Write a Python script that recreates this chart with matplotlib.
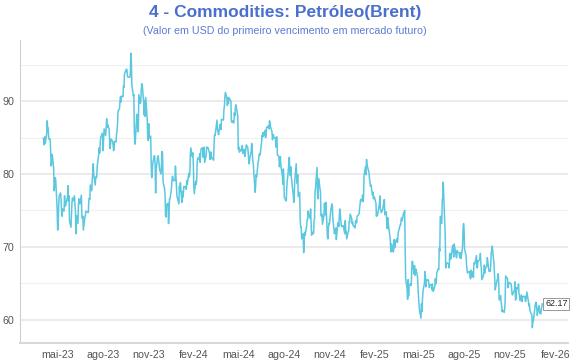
import numpy as np
import pandas as pd
import matplotlib
matplotlib.use('Agg')
import matplotlib.pyplot as plt
import matplotlib.dates as mdates

plt.rcParams['font.family'] = ['Liberation Sans', 'DejaVu Sans']

title = '4 - Commodities: Petróleo(Brent)'
subtitle = '(Valor em USD do primeiro vencimento em mercado futuro)'

# brent daily closes, one list per quarter (business days from start date)
q2_2023_start = '2023-04-03'
q2_2023 = [84.9, 84.9, 84.0, 85.1, 84.2, 85.6, 87.3, 86.1, 86.3, 84.8, 84.8, 83.1, 81.1, 81.7,
           82.7, 80.8, 77.7, 78.4, 79.5,
           79.3, 75.3, 72.3, 72.5, 75.3, 77.0, 77.4, 76.4, 75.0, 74.2, 75.2, 74.9, 77.0, 75.9, 75.6,
           76.0, 76.8, 78.4, 76.3, 77.0, 73.5, 72.7, 74.3, 76.1,
           76.7, 76.3, 77.0, 76.0, 74.8, 71.8, 74.3, 73.2, 75.7, 76.6, 76.1, 75.9, 77.1, 74.1, 73.9,
           74.2, 72.3, 74.0, 74.3, 74.9]

q3_2023_start = '2023-07-03'
q3_2023 = [74.7, 76.3, 76.7, 76.5, 78.5, 77.7, 79.4, 80.1, 81.4, 79.9, 78.5, 79.6, 79.5, 79.6, 81.1,
           82.7, 83.6, 82.9, 84.2, 85.0, 85.6,
           84.9, 83.2, 85.1, 86.2, 85.3, 86.2, 87.6, 86.4, 86.8, 86.2, 84.9, 83.5, 84.1, 84.8,
           84.5, 84.0, 83.2, 83.4, 84.5, 84.4, 85.5, 85.9, 86.9,
           88.6, 89.0, 90.0, 90.6, 89.9, 90.7, 90.6, 92.1, 91.9, 93.7, 93.9, 94.4, 94.3, 93.5, 93.3,
           93.3, 93.3, 94.0, 96.6, 95.4, 92.2]

q4_2023_start = '2023-10-02'
q4_2023 = [90.7, 90.9, 85.8, 84.1, 84.6, 88.2, 87.7, 85.8, 86.0, 90.9, 89.7, 89.9, 91.5, 92.4, 92.2,
           89.8, 88.1, 90.1, 87.9, 90.5, 87.5, 85.0,
           84.6, 86.9, 84.9, 85.2, 81.6, 79.5, 80.0, 81.4, 82.5, 82.5, 81.2, 77.4, 80.6, 82.3, 82.5,
           82.0, 81.4, 80.6, 80.0, 81.7, 83.1, 82.8,
           78.9, 78.0, 77.2, 74.3, 74.1, 75.8, 76.0, 73.2, 74.3, 76.6, 76.6, 78.0, 79.2, 79.7, 79.4,
           79.1, 79.1, 81.1, 79.7, 78.4, 77.0]

q1_2024_start = '2024-01-02'
q1_2024 = [75.9, 78.3, 77.6, 78.8, 76.1, 77.6, 76.8, 77.4, 78.3, 78.2, 78.3, 77.9, 79.1, 78.6, 80.1,
           79.6, 80.0, 82.4, 83.6, 82.4, 82.9, 81.7,
           78.7, 77.3, 79.0, 78.6, 79.2, 81.6, 82.2, 82.0, 82.8, 81.6, 82.9, 83.5, 83.6, 82.3, 83.0,
           83.7, 81.6, 82.5, 83.7, 83.7, 83.6,
           83.6, 82.8, 82.0, 83.0, 83.0, 82.1, 82.2, 81.9, 84.0, 85.4, 85.3, 86.9, 87.4, 86.0, 85.8,
           85.4, 86.8, 86.3, 86.1, 87.5]

q2_2024_start = '2024-04-01'
q2_2024 = [87.4, 88.9, 89.4, 90.7, 91.2, 90.4, 89.4, 90.5, 89.7, 90.5, 90.1, 90.0, 87.3, 87.1, 87.3,
           87.0, 88.4, 88.0, 89.0, 89.5, 88.4, 87.9,
           83.4, 83.7, 83.0, 83.3, 83.2, 83.6, 83.9, 82.8, 83.4, 82.4, 82.8, 83.3, 84.0, 83.7, 82.9,
           81.9, 81.4, 82.1, 83.1, 84.2, 83.6, 81.9, 81.6,
           78.4, 77.5, 78.4, 79.9, 79.6, 81.6, 81.9, 82.6, 82.8, 82.6, 84.3, 85.3, 85.1, 85.7, 85.2,
           86.0, 85.0, 85.3, 86.4, 86.4]

q3_2024_start = '2024-07-01'
q3_2024 = [86.6, 86.2, 87.3, 87.0, 86.5, 85.8, 84.7, 85.1, 85.4, 85.0, 84.9, 83.7, 85.1, 85.1, 82.6,
           82.4, 81.0, 81.7, 82.4, 81.1, 79.8, 78.6, 80.7,
           79.5, 76.8, 76.3, 76.5, 78.3, 79.2, 79.7, 82.3, 80.7, 79.8, 81.0, 79.7, 77.7, 77.2, 76.1,
           77.2, 79.0, 81.4, 79.6, 78.7, 79.9, 76.9,
           77.5, 73.8, 72.7, 72.7, 71.1, 71.8, 69.2, 70.6, 72.0, 71.6, 72.8, 73.7, 73.7, 74.9, 74.5,
           73.9, 75.2, 73.5, 71.6, 72.0, 71.8]

q4_2024_start = '2024-10-01'
q4_2024 = [73.6, 73.9, 77.6, 78.1, 80.9, 77.2, 76.6, 79.4, 79.0, 77.5, 74.3, 74.2, 74.5, 73.1, 74.3,
           76.0, 75.0, 74.4, 76.1, 71.4, 71.1, 72.6, 73.2,
           73.1, 75.1, 75.5, 75.9, 75.6, 73.9, 71.8, 71.9, 72.3, 72.6, 71.0, 73.3, 73.3, 72.8, 74.2,
           75.2, 73.0, 72.8, 72.8, 72.9, 72.9,
           71.8, 73.6, 72.3, 72.1, 71.1, 72.1, 72.2, 73.5, 73.4, 74.5, 73.9, 73.2, 73.4, 72.9, 72.9,
           72.6, 73.6, 73.6, 73.3, 74.2, 74.4, 74.6]

q1_2025_start = '2025-01-02'
q1_2025 = [75.9, 76.5, 76.3, 77.1, 76.2, 76.9, 79.8, 81.0, 79.9, 82.0, 81.3, 81.0, 80.2, 79.3, 79.0,
           78.3, 78.5, 77.1, 77.5, 76.6, 76.9, 76.8,
           76.0, 74.2, 74.6, 74.3, 74.7, 75.9, 77.0, 75.2, 75.0, 74.7, 75.2, 75.8, 76.0, 76.5, 74.4,
           74.8, 73.0, 72.5, 74.0, 73.2,
           71.6, 71.0, 69.3, 69.5, 70.4, 69.3, 69.6, 71.0, 69.9, 70.6, 71.1, 70.6, 70.8, 72.0, 72.2,
           73.0, 73.0, 73.8, 74.0, 73.6, 74.7]

q2_2025_start = '2025-04-01'
q2_2025 = [74.5, 75.0, 70.1, 65.6, 64.2, 62.8, 65.5, 63.3, 64.8, 64.9, 64.7, 65.9, 68.0, 68.0, 66.3,
           67.4, 66.1, 66.6, 66.9, 65.9, 64.3, 63.1,
           62.1, 61.3, 60.2, 62.2, 61.1, 62.8, 63.9, 65.0, 66.6, 66.1, 64.5, 65.4, 65.5, 65.4, 64.9,
           64.4, 64.8, 64.8, 64.1, 64.9, 64.2, 63.9,
           64.6, 65.6, 64.9, 65.3, 66.5, 67.0, 66.9, 69.8, 69.4, 74.2, 73.2, 76.5, 76.7, 78.9, 77.0,
           71.5, 67.1, 67.7, 67.7, 67.8, 67.6]

q3_2025_start = '2025-07-01'
q3_2025 = [67.1, 69.1, 68.8, 68.3, 69.6, 70.2, 70.2, 68.6, 70.4, 69.2, 68.7, 68.5, 69.5, 69.3, 69.2,
           68.6, 68.5, 69.2, 68.4, 70.0, 72.5, 73.2, 72.5,
           69.7, 68.8, 67.6, 66.9, 66.4, 66.6, 66.6, 66.1, 65.6, 66.8, 65.9, 66.6, 65.8, 67.8, 67.7,
           67.7, 68.8, 67.2, 67.1, 68.1, 68.1,
           68.2, 69.1, 67.6, 67.0, 65.5, 66.0, 66.4, 67.5, 66.4, 67.0, 67.4, 68.5, 68.0, 67.4, 66.7,
           66.6, 67.6, 69.3, 69.4, 70.1, 68.0, 67.0]

q4_2025_start = '2025-10-01'
q4_2025 = [65.4, 64.1, 64.5, 65.5, 65.5, 66.3, 65.2, 62.7, 63.3, 62.4, 61.9, 61.1, 61.3, 61.0, 61.3,
           62.6, 66.0, 65.9, 65.6, 64.4, 64.9, 65.0, 65.1,
           64.9, 64.4, 63.5, 63.4, 63.6, 64.1, 65.2, 62.7, 63.0, 64.4, 64.2, 64.9, 63.5, 63.4, 62.6,
           63.4, 62.5, 63.1, 63.1, 63.2,
           63.2, 62.5, 62.7, 63.3, 63.8, 62.5, 61.9, 62.2, 61.3, 61.1, 60.6, 58.9, 59.7, 59.8, 60.5,
           62.1, 62.4, 62.2, 61.5, 60.6, 61.9, 61.9, 60.9, 60.9, 60.8, 62.17]

last_label = '62.17'

x_ticks = ['2023-05-01', '2023-08-01', '2023-11-01', '2024-02-01', '2024-05-01', '2024-08-01',
           '2024-11-01', '2025-02-01', '2025-05-01', '2025-08-01', '2025-11-01', '2026-02-01']
x_labels = ['mai-23', 'ago-23', 'nov-23', 'fev-24', 'mai-24', 'ago-24',
            'nov-24', 'fev-25', 'mai-25', 'ago-25', 'nov-25', 'fev-26']

quarters = [(q2_2023_start, q2_2023), (q3_2023_start, q3_2023), (q4_2023_start, q4_2023),
            (q1_2024_start, q1_2024), (q2_2024_start, q2_2024), (q3_2024_start, q3_2024),
            (q4_2024_start, q4_2024), (q1_2025_start, q1_2025), (q2_2025_start, q2_2025),
            (q3_2025_start, q3_2025), (q4_2025_start, q4_2025)]

parts = []
for start, vals in quarters:
    parts.append(pd.Series(vals, index=pd.bdate_range(start, periods=len(vals))))
brent = pd.concat(parts)

fig = plt.figure(figsize=(5.7, 3.6), dpi=100)
ax = fig.add_axes([20/570, 17/360, 548/570, 303/360])

ax.plot(brent.index, brent.values, color='#5bc8e0', lw=1.1)

ax.set_xlim(pd.Timestamp('2023-02-15'), pd.Timestamp('2026-02-26'))
ax.set_ylim(56.8, 98.4)

ax.set_xticks(pd.to_datetime(x_ticks))
ax.set_xticklabels(x_labels)
ax.set_yticks([60, 70, 80, 90])
ax.set_yticks([65, 75, 85, 95], minor=True)
ax.tick_params(axis='both', which='both', length=0, labelsize=7.7, colors='#555555')
ax.tick_params(axis='y', pad=4)
ax.tick_params(axis='x', pad=5)

ax.grid(axis='y', which='major', color='#e6e6e6', lw=1.1)
ax.grid(axis='y', which='minor', color='#f0f0f0', lw=0.8)
ax.set_axisbelow(True)

for s in ['top', 'right']:
    ax.spines[s].set_visible(False)
ax.spines['left'].set_color('#d0d0d0')
ax.spines['left'].set_linewidth(0.8)
ax.spines['bottom'].set_color('#d8d8d8')
ax.spines['bottom'].set_linewidth(1.5)

# last value label
ax.annotate(last_label, xy=(brent.index[-1], brent.values[-1]), xytext=(2, 0),
            textcoords='offset points', ha='left', va='center', fontsize=6.4, color='#222222',
            bbox=dict(boxstyle='square,pad=0.2', fc='white', ec='#999999', lw=0.7),
            annotation_clip=False)

fig.text(0.5, 1 - 12.5/360, title, ha='center', va='center', fontsize=12.5,
         fontweight='bold', color='#4a6fcf')
fig.text(0.5, 1 - 31/360, subtitle, ha='center', va='center', fontsize=7.7, color='#5b7bd5')

fig.savefig('out.png', dpi=100)
